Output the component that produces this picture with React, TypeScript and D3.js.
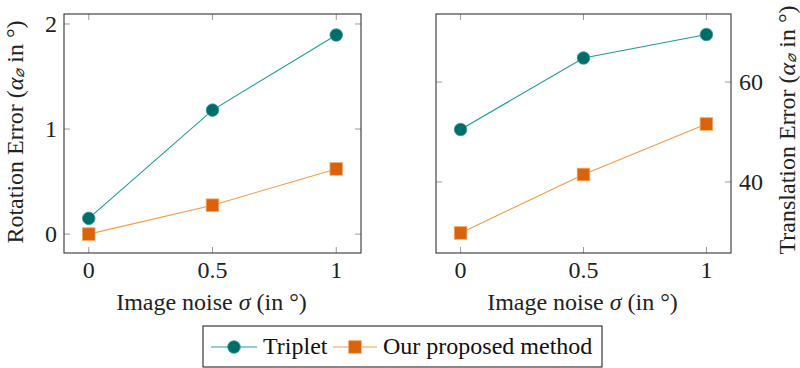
import React from 'react'
import * as d3 from 'd3'

// image noise sigma (deg)
const noise = [0, 0.5, 1]
const xTicks = [0, 0.5, 1]
const xTickLabels = ['0', '0.5', '1']

// rotation error
const rotTriplet = [0.15, 1.18, 1.895]
const rotOurs = [0.0, 0.275, 0.62]
const rotTicks = [0, 1, 2]

// translation error
const transTriplet = [50.5, 64.8, 69.5]
const transOurs = [29.8, 41.5, 51.6]
const transTicks = [40, 60]

const seriesNames = ['Triplet', 'Our proposed method']

const FONT = "'Liberation Serif', serif"
const FS = 24
const TEAL_LINE = '#1f9c9a'
const TEAL_FILL = '#006d6b'
const TEAL_EDGE = '#3a9d9b'
const ORANGE_LINE = '#f79a45'
const ORANGE_FILL = '#d9620a'
const ORANGE_EDGE = '#f7a860'

function Marker({ kind, x, y }: { kind: string; x: number; y: number }) {
  if (kind === 'circle') {
    return <circle cx={x} cy={y} r={6.3} fill={TEAL_FILL} stroke={TEAL_EDGE} strokeWidth={0.8} />
  }
  return <rect x={x - 6.3} y={y - 6.3} width={12.6} height={12.6} fill={ORANGE_FILL} stroke={ORANGE_EDGE} strokeWidth={0.8} />
}

function Panel(props: {
  left: number
  right: number
  top: number
  bottom: number
  yDomain: [number, number]
  yTicks: number[]
  triplet: number[]
  ours: number[]
  labelSide: 'left' | 'right'
  yLabel: string
}) {
  const { left, right, top, bottom, yDomain, yTicks, triplet, ours, labelSide, yLabel } = props
  const x = d3.scaleLinear().domain([-0.1, 1.1]).range([left, right])
  const y = d3.scaleLinear().domain(yDomain).range([bottom, top])
  const line = d3.line<number>().x((d, i) => x(noise[i])).y((d) => y(d))
  const tk = 6
  const labelX = labelSide === 'left' ? 15 : 787
  const labelY = labelSide === 'left' ? 132 : 130
  return (
    <g>
      {/* ticks, mirrored on both sides */}
      {xTicks.map((t) => (
        <g key={'xt' + t} stroke="#999" strokeWidth={1}>
          <line x1={x(t)} x2={x(t)} y1={bottom} y2={bottom - tk} />
          <line x1={x(t)} x2={x(t)} y1={top} y2={top + tk} />
        </g>
      ))}
      {yTicks.map((t) => (
        <g key={'yt' + t} stroke="#999" strokeWidth={1}>
          <line x1={left} x2={left + tk} y1={y(t)} y2={y(t)} />
          <line x1={right} x2={right - tk} y1={y(t)} y2={y(t)} />
        </g>
      ))}
      <rect x={left} y={top} width={right - left} height={bottom - top} fill="none" stroke="#333" strokeWidth={1.1} />
      {xTicks.map((t, i) => (
        <text key={'xl' + t} x={x(t)} y={278} textAnchor="middle" fontSize={FS} fill="#222" fontFamily={FONT}>
          {xTickLabels[i]}
        </text>
      ))}
      {yTicks.map((t) => (
        <text
          key={'yl' + t}
          x={labelSide === 'left' ? left - 7 : right + 8}
          y={y(t) + 8}
          textAnchor={labelSide === 'left' ? 'end' : 'start'}
          fontSize={FS}
          fill="#222"
          fontFamily={FONT}
        >
          {t}
        </text>
      ))}
      <text x={(left + right) / 2 - 1} y={310} textAnchor="middle" fontSize={FS} fill="#222" fontFamily={FONT}>
        Image noise <tspan fontStyle="italic">σ</tspan> (in °)
      </text>
      <text
        transform={`translate(${labelX},${labelY}) rotate(-90)`}
        textAnchor="middle"
        dominantBaseline="central"
        fontSize={FS}
        fill="#222"
        fontFamily={FONT}
      >
        {yLabel} (<tspan fontStyle="italic">α</tspan>
        <tspan fontSize={15} fontStyle="italic" dy={4}>⌀</tspan>
        <tspan dy={-4}> in °)</tspan>
      </text>
      <path d={line(triplet) || ''} fill="none" stroke={TEAL_LINE} strokeWidth={1.1} />
      <path d={line(ours) || ''} fill="none" stroke={ORANGE_LINE} strokeWidth={1.1} />
      {triplet.map((v, i) => (
        <Marker key={'t' + i} kind="circle" x={x(noise[i])} y={y(v)} />
      ))}
      {ours.map((v, i) => (
        <Marker key={'o' + i} kind="square" x={x(noise[i])} y={y(v)} />
      ))}
    </g>
  )
}

export default function App() {
  return (
    <div style={{ position: 'absolute', left: 0, top: 0 }}>
      <svg width={800} height={368} style={{ display: 'block' }}>
        <rect width={800} height={368} fill="#fff" />
        <Panel
          left={64}
          right={361}
          top={14}
          bottom={253}
          yDomain={[-0.18, 2.095]}
          yTicks={rotTicks}
          triplet={rotTriplet}
          ours={rotOurs}
          labelSide="left"
          yLabel="Rotation Error"
        />
        <Panel
          left={436}
          right={731}
          top={14}
          bottom={253}
          yDomain={[25.8, 73.6]}
          yTicks={transTicks}
          triplet={transTriplet}
          ours={transOurs}
          labelSide="right"
          yLabel="Translation Error"
        />
        {/* legend */}
        <g>
          <rect x={203} y={326} width={399} height={41} fill="#fff" stroke="#111" strokeWidth={1} />
          <line x1={211} x2={257} y1={347} y2={347} stroke={TEAL_LINE} strokeWidth={1.1} />
          <Marker kind="circle" x={234} y={347} />
          <text x={263} y={354} fontSize={FS} fill="#111" fontFamily={FONT}>{seriesNames[0]}</text>
          <line x1={333} x2={377} y1={347} y2={347} stroke={ORANGE_LINE} strokeWidth={1.1} />
          <Marker kind="square" x={355} y={347} />
          <text x={383} y={354} fontSize={FS} fill="#111" fontFamily={FONT}>{seriesNames[1]}</text>
        </g>
      </svg>
    </div>
  )
}
